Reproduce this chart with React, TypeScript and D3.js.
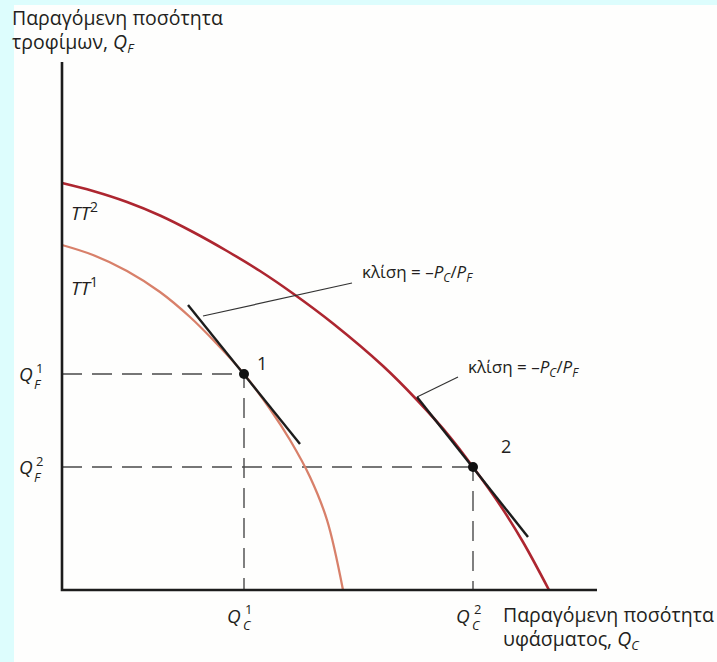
import React from "react";
import * as d3 from "d3";

// Data (units: x = cloth, y = food)
const tt2Points: [number, number][] = [
  [0, 407], [31, 399], [65, 388], [98, 374.5], [131, 358], [165, 339], [198, 319],
  [231, 296.5], [271, 266.5], [321, 224], [355, 190], [388, 153], [411, 123],
  [438, 85], [461, 48], [487, 0],
];
const tt1Points: [number, number][] = [
  [0, 345], [31, 335], [65, 319], [98, 298], [128, 273], [155, 246], [182, 216],
  [208, 181], [228, 150], [248, 113], [265, 70], [281, 0],
];
const tangent1: [number, number][] = [[126, 285], [238, 146]];
const tangent2: [number, number][] = [[355, 193], [466, 53]];
const leader1: [number, number][] = [[141, 274], [290, 307]];
const leader2: [number, number][] = [[355, 193], [396, 213]];
const equilibria = [
  { x: 182, y: 216, label: "1", sup: "1" },
  { x: 411, y: 123, label: "2", sup: "2" },
];

const W = 717;
const H = 662;
const x0 = 62, x1 = 597, y0 = 590, y1 = 62;
const xScale = d3.scaleLinear().domain([0, 535]).range([x0, x1]);
const yScale = d3.scaleLinear().domain([0, 528]).range([y0, y1]);

const curve = d3.line<[number, number]>()
  .x((d) => xScale(d[0]))
  .y((d) => yScale(d[1]))
  .curve(d3.curveCatmullRom.alpha(0.5));
const straight = d3.line<[number, number]>()
  .x((d) => xScale(d[0]))
  .y((d) => yScale(d[1]));

const FONT = "'Open Sans', 'Noto Sans', sans-serif";
const TXT = "#231f20";
const FS = 17;
const TITLE = 19.5;

function Slope({ x, y }: { x: number; y: number }) {
  return (
    <text x={x} y={y} fontSize={FS}>
      κλίση = –<tspan fontStyle="italic">P</tspan>
      <tspan fontStyle="italic" fontSize={12} dy={4}>C</tspan>
      <tspan dy={-4}>/</tspan><tspan fontStyle="italic">P</tspan>
      <tspan fontStyle="italic" fontSize={12} dy={4}>F</tspan>
    </text>
  );
}

export default function App() {
  return (
    <svg width={W} height={H} style={{ position: "absolute", left: 0, top: 0 }}
      fontFamily={FONT} fill={TXT}>
      <rect x={0} y={0} width={W} height={H} fill="#ddfdfd" />
      <rect x={14} y={5} width={W - 14} height={H - 5} fill="#fefefd" />

      {/* y-axis title */}
      <text x={12} y={25} fontSize={TITLE}>Παραγόμενη ποσότητα</text>
      <text x={12} y={49} fontSize={TITLE}>
        τροφίμων, <tspan fontStyle="italic">Q</tspan>
        <tspan fontStyle="italic" fontSize={13} dy={4}>F</tspan>
      </text>

      {/* dashed guides */}
      {equilibria.map((p, i) => (
        <g key={"d" + i} stroke="#4a4a4a" strokeWidth={1.4} strokeDasharray="20,10" fill="none">
          <line x1={xScale(0)} x2={xScale(p.x)} y1={yScale(p.y)} y2={yScale(p.y)} />
          <line x1={xScale(p.x)} x2={xScale(p.x)} y1={yScale(p.y)} y2={yScale(0)}
            strokeDashoffset={6} />
        </g>
      ))}

      {/* curves */}
      <path d={curve(tt1Points) || ""} fill="none" stroke="#d8806a" strokeWidth={2.3} />
      <path d={curve(tt2Points) || ""} fill="none" stroke="#ad2630" strokeWidth={2.6} />

      {/* tangents */}
      <path d={straight(tangent1) || ""} stroke="#1c1c1c" strokeWidth={2.4} fill="none" />
      <path d={straight(tangent2) || ""} stroke="#1c1c1c" strokeWidth={2.4} fill="none" />
      <path d={straight(leader1) || ""} stroke="#333" strokeWidth={1.2} fill="none" />
      <path d={straight(leader2) || ""} stroke="#333" strokeWidth={1.2} fill="none" />

      {/* axes */}
      <path d={`M${x0},${y1}V${y0}H${x1}`} fill="none" stroke="#1c1c1c" strokeWidth={2.6} />

      {/* points */}
      {equilibria.map((p, i) => (
        <circle key={"p" + i} cx={xScale(p.x)} cy={yScale(p.y)} r={5} fill="#111" />
      ))}
      <text x={xScale(equilibria[0].x) + 13} y={yScale(equilibria[0].y) - 4} fontSize={FS + 1}>1</text>
      <text x={xScale(equilibria[1].x) + 28} y={yScale(equilibria[1].y) - 14} fontSize={FS + 1}>2</text>

      {/* curve labels */}
      <text x={71} y={220} fontSize={19}>
        <tspan fontStyle="italic">TT</tspan>
        <tspan fontSize={14} dy={-8}>2</tspan>
      </text>
      <text x={71} y={295} fontSize={19}>
        <tspan fontStyle="italic">TT</tspan>
        <tspan fontSize={14} dy={-8}>1</tspan>
      </text>

      {/* slope labels */}
      <Slope x={362} y={278} />
      <Slope x={468} y={373} />

      {/* y tick labels */}
      {equilibria.map((p, i) => (
        <text key={"qf" + i} x={19} y={yScale(p.y) + 7} fontSize={FS + 2}>
          <tspan fontStyle="italic">Q</tspan>
          <tspan fontSize={13} x={36} dy={-8}>{p.sup}</tspan>
          <tspan fontSize={13} fontStyle="italic" x={34} dy={16}>F</tspan>
        </text>
      ))}

      {/* x tick labels */}
      {equilibria.map((p, i) => (
        <text key={"qc" + i} x={xScale(p.x) - 17} y={623} fontSize={FS + 2}>
          <tspan fontStyle="italic">Q</tspan>
          <tspan fontSize={13} x={xScale(p.x) + 1} dy={-9}>{p.sup}</tspan>
          <tspan fontSize={13} fontStyle="italic" x={xScale(p.x) - 1} dy={16}>C</tspan>
        </text>
      ))}

      {/* x-axis title */}
      <text x={503} y={622} fontSize={TITLE}>Παραγόμενη ποσότητα</text>
      <text x={503} y={646} fontSize={TITLE}>
        υφάσματος, <tspan fontStyle="italic">Q</tspan>
        <tspan fontStyle="italic" fontSize={13} dy={4}>C</tspan>
      </text>
    </svg>
  );
}
